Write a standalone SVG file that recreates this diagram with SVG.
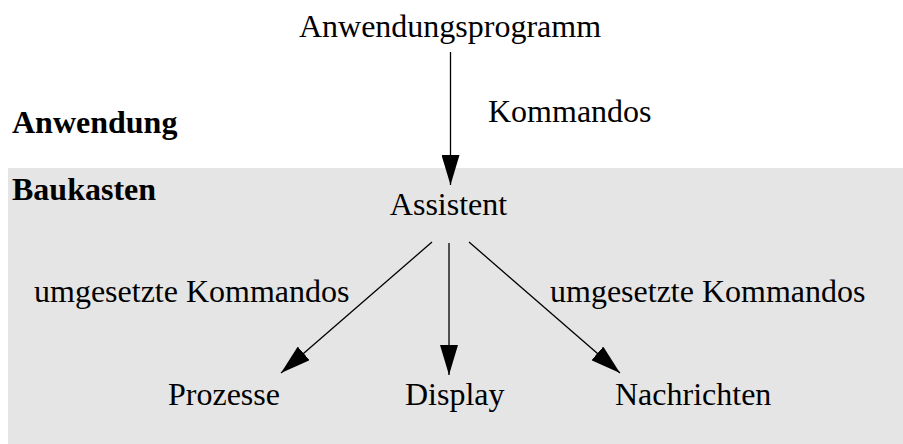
<svg xmlns="http://www.w3.org/2000/svg" width="903" height="444" viewBox="0 0 903 444" font-family="'Liberation Serif', serif">
<defs>
<style>
text{font-family:'Liberation Serif',serif;font-size:32px;fill:#000}
.b{font-weight:bold}
.c{stroke:#000;stroke-width:1.3;fill:none}
</style>
<marker id="ah" viewBox="0 0 30 18" refX="30" refY="9" markerWidth="30" markerHeight="18" markerUnits="userSpaceOnUse" orient="auto">
<path d="M0,0 L30,9 L0,18 Z" fill="#000"/>
</marker>
</defs>
<rect x="8" y="168" width="895" height="276" fill="#e5e5e5"/>
<g id="layer-labels">
<text class="b" x="12" y="133">Anwendung</text>
<text class="b" x="12" y="200">Baukasten</text>
</g>
<g id="anwendungsprogramm"><text x="450" y="37" text-anchor="middle">Anwendungsprogramm</text></g>
<g id="assistent"><text x="448.5" y="215" text-anchor="middle">Assistent</text></g>
<g id="prozesse"><text x="168" y="405">Prozesse</text></g>
<g id="display"><text x="405" y="405">Display</text></g>
<g id="nachrichten"><text x="615" y="405">Nachrichten</text></g>
<g id="connectors">
<line class="c" x1="450.5" y1="52" x2="450.5" y2="185" marker-end="url(#ah)"/>
<line class="c" x1="449" y1="243" x2="449" y2="375" marker-end="url(#ah)"/>
<line class="c" x1="432" y1="242" x2="281" y2="373" marker-end="url(#ah)"/>
<line class="c" x1="469" y1="242" x2="620" y2="373" marker-end="url(#ah)"/>
<text x="488" y="122">Kommandos</text>
<text x="34" y="302">umgesetzte Kommandos</text>
<text x="550" y="302">umgesetzte Kommandos</text>
</g>
</svg>
